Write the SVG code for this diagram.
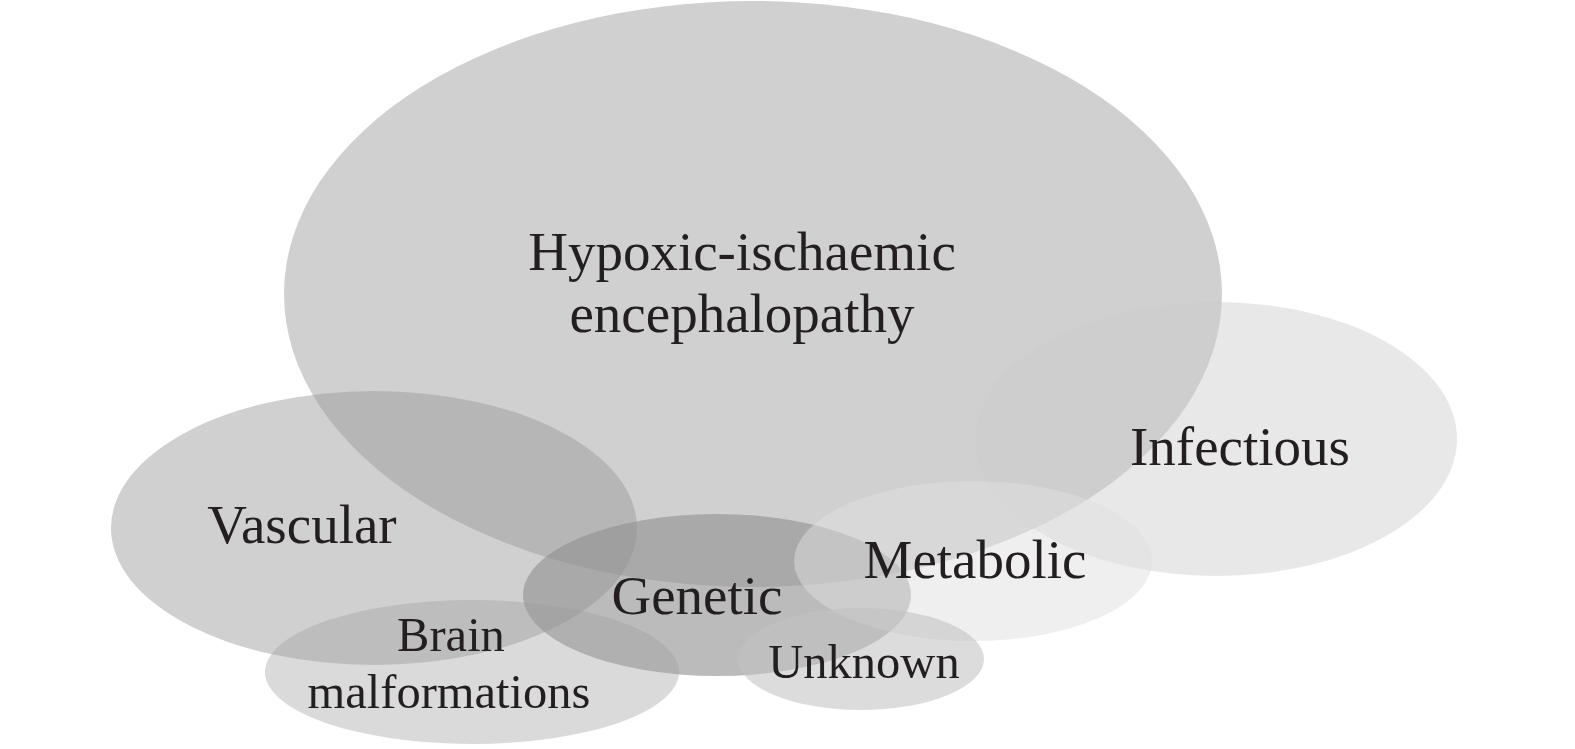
<svg xmlns="http://www.w3.org/2000/svg" width="1575" height="749" viewBox="0 0 1575 749">
<style>
text{font-family:"Liberation Serif","Times New Roman",serif;fill:#231f20;text-anchor:middle}
.big{font-size:55px}
.small{font-size:48.5px}
</style>
<rect width="1575" height="749" fill="#ffffff"/>
<g id="hypoxic"><ellipse cx="753" cy="294" rx="469" ry="293" fill="#969696" fill-opacity="0.45"/></g>
<g id="vascular"><ellipse cx="374" cy="528" rx="263" ry="137" fill="#969696" fill-opacity="0.45"/></g>
<g id="infectious"><ellipse cx="1216" cy="439" rx="241" ry="137" fill="#cccccc" fill-opacity="0.45"/></g>
<g id="genetic"><ellipse cx="717" cy="595" rx="194" ry="81" fill="#929292" fill-opacity="0.62"/></g>
<g id="brain"><ellipse cx="472" cy="672" rx="207" ry="72" fill="#9e9e9e" fill-opacity="0.38"/></g>
<g id="metabolic"><ellipse cx="973" cy="561" rx="179" ry="80" fill="#e0e0e0" fill-opacity="0.5"/></g>
<g id="unknown"><ellipse cx="861" cy="659" rx="123" ry="51" fill="#c2c2c2" fill-opacity="0.57"/></g>
<g id="connectors"></g>
<g id="labels">
<text class="big" x="742" y="270">Hypoxic-ischaemic</text>
<text class="big" x="742" y="332">encephalopathy</text>
<text class="big" x="1240" y="465">Infectious</text>
<text class="big" x="302" y="543">Vascular</text>
<text class="big" x="975" y="578">Metabolic</text>
<text class="big" x="697" y="614">Genetic</text>
<text class="small" x="451" y="651">Brain</text>
<text class="small" x="449" y="708">malformations</text>
<text class="small" x="864" y="678">Unknown</text>
</g>
</svg>
